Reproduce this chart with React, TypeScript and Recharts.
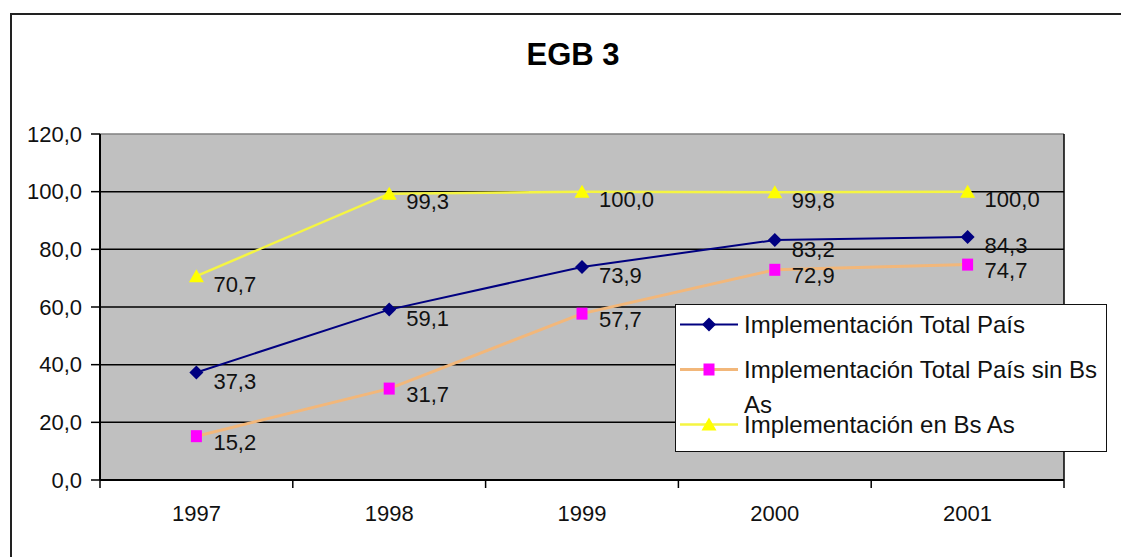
import { LineChart, Line, XAxis, YAxis, CartesianGrid, Legend, LabelList } from 'recharts';

const years = ['1997', '1998', '1999', '2000', '2001'];
const totalPais = [37.3, 59.1, 73.9, 83.2, 84.3];
const totalSinBsAs = [15.2, 31.7, 57.7, 72.9, 74.7];
const enBsAs = [70.7, 99.3, 100.0, 99.8, 100.0];
const yTicks = [0, 20, 40, 60, 80, 100, 120];

const data = years.map((year, i) => ({
  year,
  total: totalPais[i],
  sinBsAs: totalSinBsAs[i],
  bsAs: enBsAs[i],
}));

const FONT = "'Liberation Sans', Arial, sans-serif";
const W = 1121;
const H = 557;
const MARGIN = { top: 134, right: 57, bottom: 47, left: 0 };
const Y_AXIS_W = 100;
const PLOT_W = W - MARGIN.left - MARGIN.right - Y_AXIS_W;
const PLOT_RIGHT = W - MARGIN.right;
const BAND = PLOT_W / years.length;

const fmt = (v: number) => v.toFixed(1).replace('.', ',');

type Marker = 'diamond' | 'square' | 'triangle';

const series: { key: string; name: string; stroke: string; width: number; marker: Marker; markerFill: string; labelDy: number }[] = [
  { key: 'total', name: 'Implementación Total País', stroke: '#000080', width: 2, marker: 'diamond', markerFill: '#000080', labelDy: 9 },
  { key: 'sinBsAs', name: 'Implementación Total País sin Bs As', stroke: '#F2B77A', width: 3, marker: 'square', markerFill: '#FF00FF', labelDy: 6 },
  { key: 'bsAs', name: 'Implementación en Bs As', stroke: '#F5F542', width: 2.5, marker: 'triangle', markerFill: '#FFFF00', labelDy: 8 },
];

function drawMarker(type: Marker, cx: number, cy: number, fill: string, key?: string) {
  if (type === 'diamond') {
    return <polygon key={key} points={`${cx},${cy - 7} ${cx + 7},${cy} ${cx},${cy + 7} ${cx - 7},${cy}`} fill={fill} />;
  }
  if (type === 'square') {
    return <rect key={key} x={cx - 5.5} y={cy - 6} width={11} height={12} fill={fill} />;
  }
  return <polygon key={key} points={`${cx},${cy - 7} ${cx + 7.5},${cy + 6} ${cx - 7.5},${cy + 6}`} fill={fill} />;
}

// horizontal grid: black lines, the top edge of the plot area in gray
function GridRow(p: any) {
  const top = p.y1 <= MARGIN.top + 1;
  return <line key={p.key} x1={p.x1} y1={p.y1} x2={p.x2} y2={p.y2} stroke={top ? '#808080' : '#000'} strokeWidth={1.5} />;
}

function YearTick(props: any) {
  const { x, y, payload, index } = props;
  const last = index === years.length - 1;
  return (
    <g>
      <line x1={x - BAND / 2} y1={y} x2={x - BAND / 2} y2={y + 8} stroke="#000" strokeWidth={1.5} />
      {last && <line x1={x + BAND / 2} y1={y} x2={x + BAND / 2} y2={y + 8} stroke="#000" strokeWidth={1.5} />}
      <text x={x} y={y + 33} textAnchor="middle" dominantBaseline="central" fontSize={22} fill="#111" fontFamily={FONT}>
        {payload.value}
      </text>
    </g>
  );
}

function LegendBox(props: any) {
  const rows = [19, 64, 119];
  const payload = props.payload || [];
  return (
    <div style={{ position: 'relative', width: 432, height: 148, boxSizing: 'border-box', border: '1.5px solid #111', background: '#fff', fontFamily: FONT }}>
      {series.map((s, i) => {
        const entry = payload.find((p: any) => p.dataKey === s.key);
        return (
          <div key={s.key} style={{ position: 'absolute', left: 4, top: rows[i] - 17.5, height: 35 }}>
            <svg width={60} height={35} style={{ position: 'absolute', left: 0, top: 0 }}>
              <line x1={0} y1={17.5} x2={58} y2={17.5} stroke={s.stroke} strokeWidth={s.width} />
              {drawMarker(s.marker, 29, 17.5, s.markerFill)}
            </svg>
            <div style={{ position: 'absolute', left: 64, top: 0, width: 362, fontSize: 24, lineHeight: '35px', color: '#111' }}>
              {entry ? entry.value : s.name}
            </div>
          </div>
        );
      })}
    </div>
  );
}

export default function App() {
  return (
    <div style={{ position: 'absolute', left: 0, top: 0, width: W, height: H, background: '#fff', overflow: 'hidden', fontFamily: FONT }}>
      <div style={{ position: 'absolute', left: 10, top: 13, width: 1200, height: 700, borderLeft: '2px solid #222', borderTop: '2px solid #222' }} />
      <div style={{ position: 'absolute', left: 473, top: 36, width: 200, textAlign: 'center', fontSize: 31, fontWeight: 'bold', lineHeight: '38px', color: '#000' }}>
        EGB 3
      </div>
      <LineChart width={W} height={H} data={data} margin={MARGIN}>
        <CartesianGrid
          stroke="#000"
          strokeWidth={1.5}
          fill="#C0C0C0"
          fillOpacity={1}
          horizontal={GridRow}
          vertical={{ stroke: '#808080' }}
          verticalPoints={[PLOT_RIGHT]}
        />
        <XAxis
          dataKey="year"
          padding={{ left: BAND / 2, right: BAND / 2 }}
          height={30}
          tickLine={false}
          tickSize={0}
          tickMargin={0}
          axisLine={{ stroke: '#000', strokeWidth: 2 }}
          tick={<YearTick />}
          interval={0}
        />
        <YAxis
          width={Y_AXIS_W}
          domain={[0, 120]}
          ticks={yTicks}
          tickFormatter={fmt}
          tickSize={9}
          tickMargin={9}
          axisLine={{ stroke: '#000', strokeWidth: 2 }}
          tickLine={{ stroke: '#000', strokeWidth: 1.5 }}
          tick={{ fontSize: 22, fill: '#111', fontFamily: FONT }}
        />
        <Legend
          layout="vertical"
          align="center"
          verticalAlign="middle"
          content={<LegendBox />}
          wrapperStyle={{ left: 675, top: 304, width: 432, height: 148 }}
        />
        {series.map((s) => (
          <Line
            key={s.key}
            type="linear"
            dataKey={s.key}
            name={s.name}
            stroke={s.stroke}
            strokeWidth={s.width}
            isAnimationActive={false}
            dot={(p: any) => drawMarker(s.marker, p.cx, p.cy, s.markerFill, `${s.key}-dot-${p.index}`)}
            activeDot={false}
          >
            <LabelList
              dataKey={s.key}
              content={(p: any) => (
                <text x={p.x + 17} y={p.y + s.labelDy} dominantBaseline="central" fontSize={22} fill="#111" fontFamily={FONT}>
                  {fmt(Number(p.value))}
                </text>
              )}
            />
          </Line>
        ))}
      </LineChart>
    </div>
  );
}
